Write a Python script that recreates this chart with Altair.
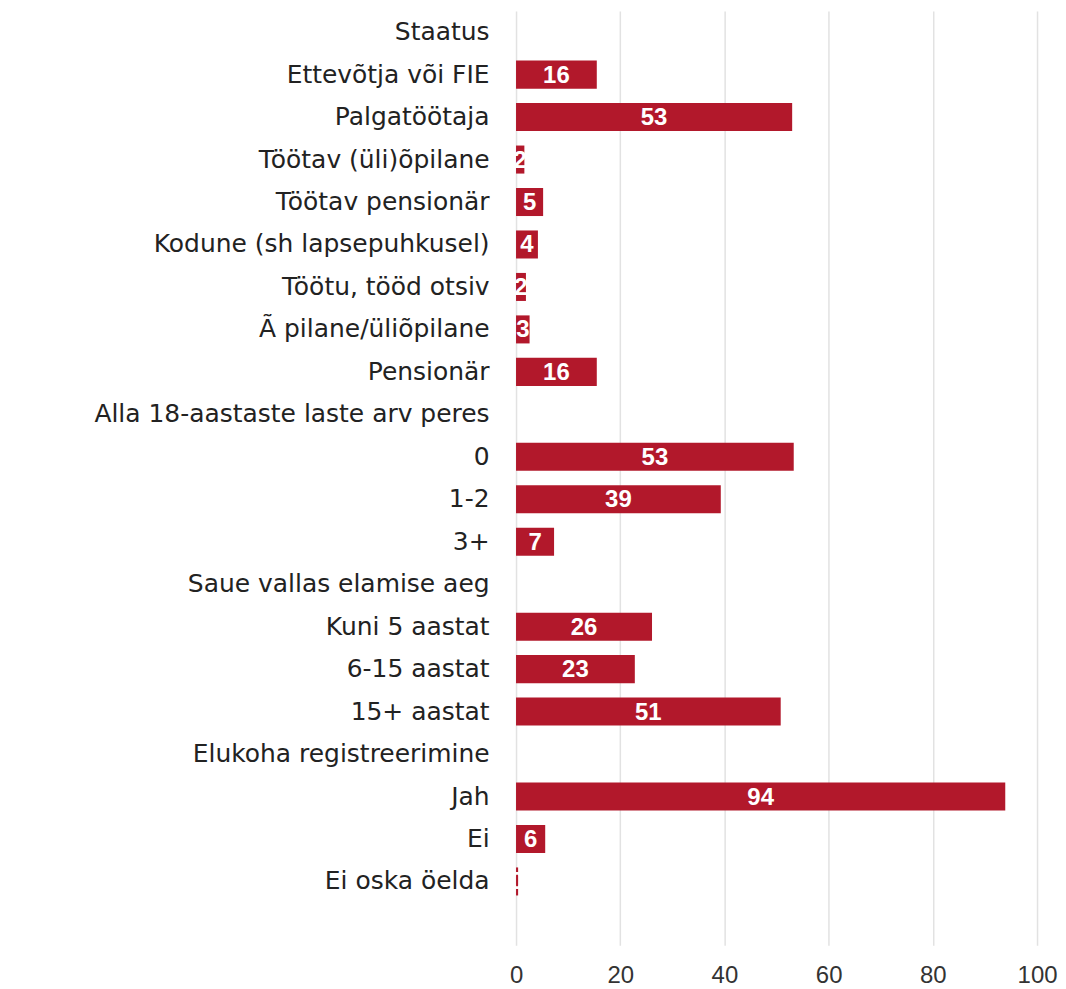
import altair as alt
import pandas as pd

categories = [
    "Staatus",
    "Ettevõtja või FIE",
    "Palgatöötaja",
    "Töötav (üli)õpilane",
    "Töötav pensionär",
    "Kodune (sh lapsepuhkusel)",
    "Töötu, tööd otsiv",
    "Ã pilane/üliõpilane",
    "Pensionär\u00a0",
    "Alla 18-aastaste laste arv peres",
    "0",
    "1-2",
    "3+",
    "Saue vallas elamise aeg",
    "Kuni 5 aastat",
    "6-15 aastat",
    "15+ aastat",
    "Elukoha registreerimine",
    "Jah",
    "Ei",
    "Ei oska öelda",
]
values = [None, 15.5, 53.0, 1.6, 5.2, 4.2, 1.9, 2.6, 15.5, None,
          53.3, 39.3, 7.3, None, 26.1, 22.8, 50.8, None, 93.9, 5.6, 0.4]
x_ticks = [0, 20, 40, 60, 80, 100]

df = pd.DataFrame({"category": categories, "value": values})

bar_color = "#B2182B"

y_enc = alt.Y(
    "category:N",
    sort=None,
    scale=alt.Scale(domain=categories + [" "], paddingInner=0.34, paddingOuter=0.17),
    axis=alt.Axis(
        title=None, ticks=False, tickSize=0, domain=False, grid=False,
        labelFont="DejaVu Sans", labelFontSize=25, labelColor="#222222",
        labelPadding=27, labelLimit=600, minExtent=500, maxExtent=500,
    ),
)

x_enc = alt.X(
    "value:Q",
    scale=alt.Scale(domain=[0, 100], nice=False),
    axis=alt.Axis(
        values=x_ticks, title=None, ticks=False, tickSize=0, domain=False,
        grid=True, gridColor="#e2e2e2", gridWidth=1.5, labelFlush=False,
        labelFont="Liberation Sans", labelFontSize=24, labelColor="#333333",
        labelPadding=18,
    ),
)

bars = alt.Chart(df).mark_bar(color=bar_color).encode(x=x_enc, y=y_enc)

labels = alt.Chart(df).transform_filter(
    "isValid(datum.value)"
).transform_calculate(
    mid="datum.value / 2"
).mark_text(
    color="white", font="Liberation Sans", fontWeight="bold", fontSize=24,
    align="center", baseline="middle", dy=1,
).encode(
    x=alt.X("mid:Q"),
    y=alt.Y("category:N", sort=None),
    text=alt.Text("value:Q", format=".0f"),
)

chart = alt.layer(bars, labels).properties(
    width=522,
    height=936,
    background="white",
    padding={"left": 9, "top": 2, "right": 0, "bottom": 0},
).configure_view(strokeWidth=0, stroke=None)

chart.save("out.html", embed_options={"renderer": "svg", "actions": False})
